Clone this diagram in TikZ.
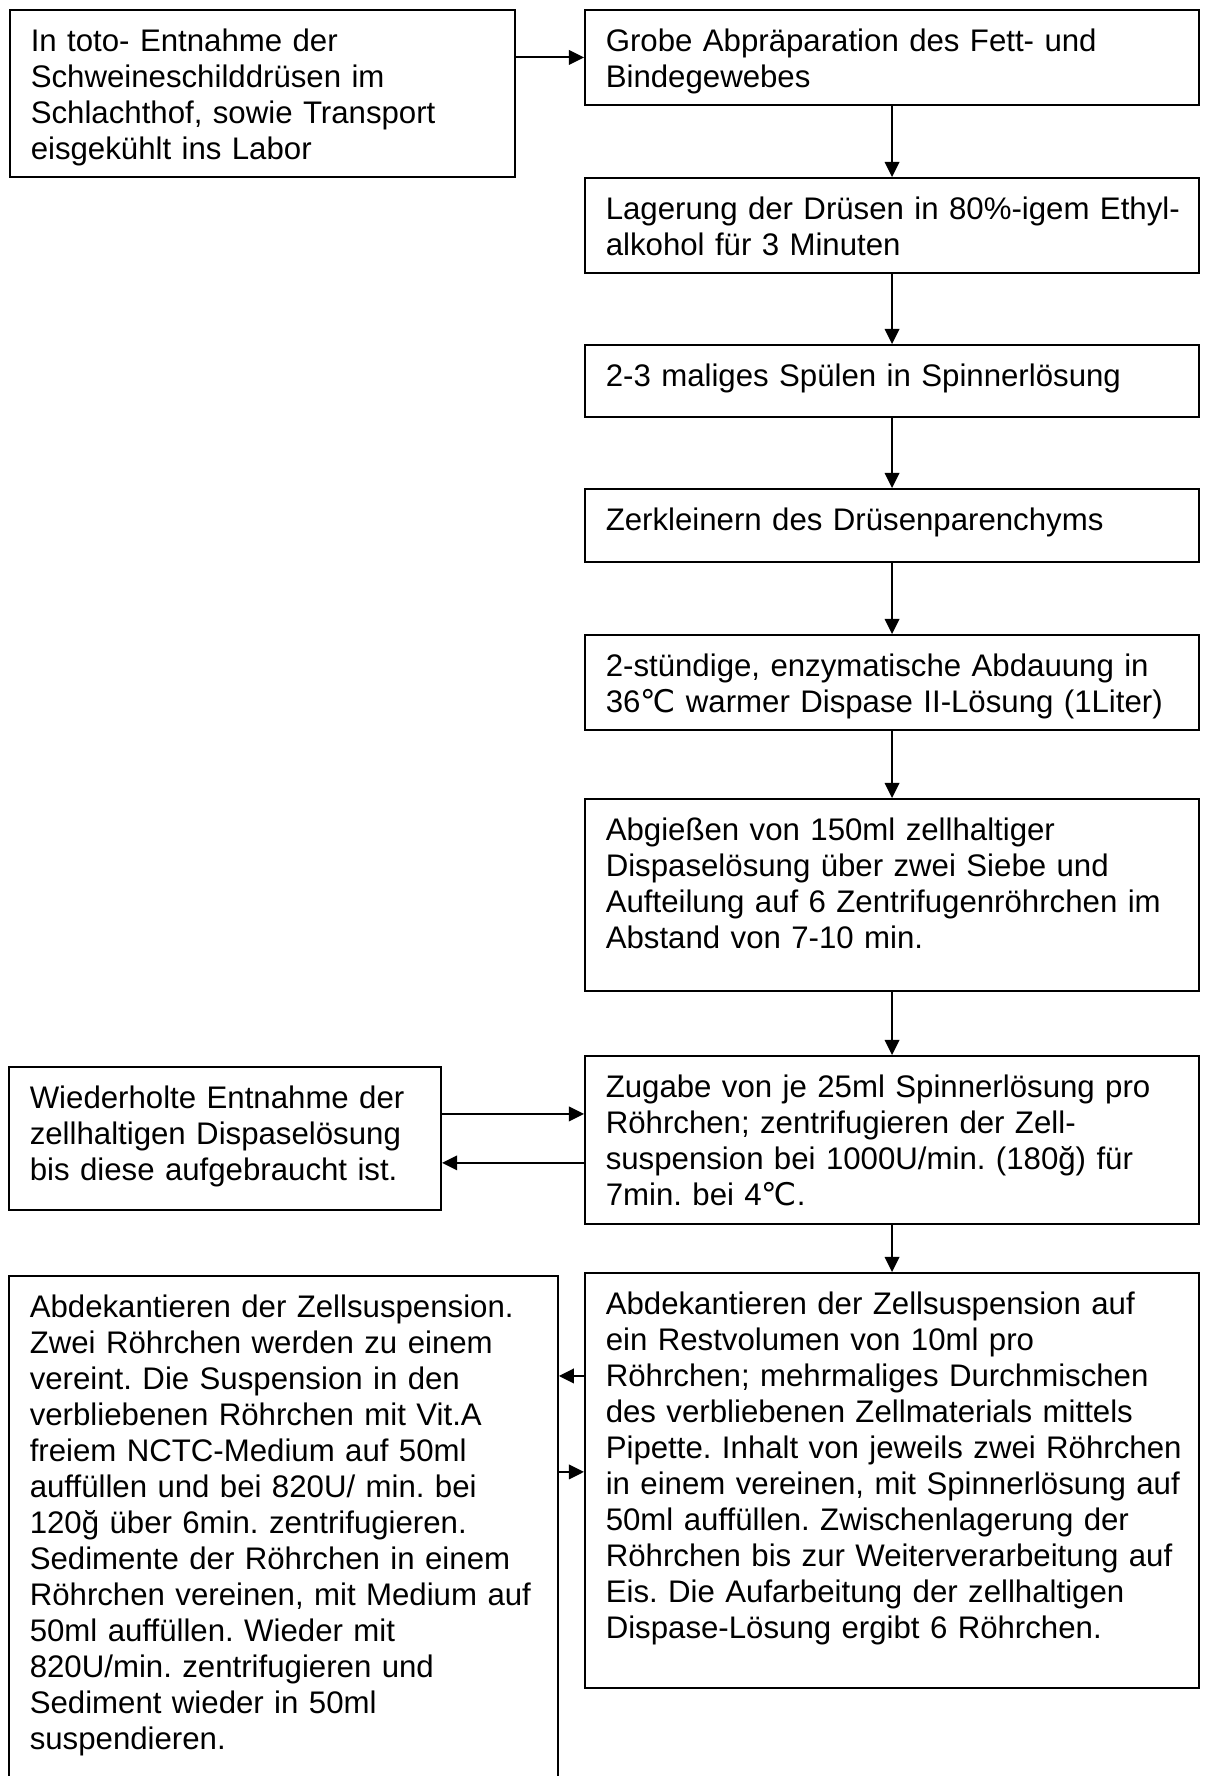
\documentclass[tikz,border=0pt]{standalone}
\usepackage{fontspec}
\setmainfont{Liberation Sans}
\newfontfamily\dejavu{DejaVu Sans}
\newcommand{\degC}{{\dejavu ℃}}
\usepackage{tikz}
\usetikzlibrary{arrows.meta}
\frenchspacing

\begin{document}
\begin{tikzpicture}[
  x=0.3846pt, y=-0.3846pt,
  stage/.style={
    draw, line width=0.75pt, anchor=north west, align=left,
    inner xsep=0pt, inner ysep=5.8pt, text height=10pt,
    font=\fontsize{12pt}{13.85pt}\selectfont,
    execute at begin node={\leftskip=8pt\relax}
  },
  arrow/.style={-{Triangle[length=5.8pt, width=5.6pt]}, line width=0.75pt}
]
  \useasboundingbox (0,0) rectangle (1209,1776);
  \clip (0,0) rectangle (1209,1776);
  \node[stage, text width=194.2pt, text depth=42.6pt] (entnahme) at (9,9) {In toto- Entnahme der\\Schweineschilddrüsen im\\Schlachthof, sowie Transport\\eisgekühlt ins Labor};
  \node[stage, text width=236.2pt, text depth=14.9pt] (grob) at (584,9) {Grobe Abpräparation des Fett- und\\Bindegewebes};
  \node[stage, text width=236.2pt, text depth=14.9pt] (lagerung) at (584,177) {Lagerung der Drüsen in 80\%-igem Ethyl-\\alkohol für 3 Minuten};
  \node[stage, text width=236.2pt, text depth=6.1pt] (spuelen) at (584,344) {2-3 maliges Spülen in Spinnerlösung};
  \node[stage, text width=236.2pt, text depth=6.5pt] (zerkl) at (584,488) {Zerkleinern des Drüsenparenchyms};
  \node[stage, text width=236.2pt, text depth=14.9pt] (abdauung) at (584,634) {2-stündige, enzymatische Abdauung in\\36\degC{} warmer Dispase II-Lösung (1Liter)};
  \node[stage, text width=236.2pt, text depth=52.2pt] (abgiessen) at (584,798) {Abgießen von 150ml zellhaltiger\\Dispaselösung über zwei Siebe und\\Aufteilung auf 6 Zentrifugenröhrchen im\\Abstand von 7-10 min.};
  \node[stage, text width=236.2pt, text depth=43pt] (zugabe) at (584,1055) {Zugabe von je 25ml Spinnerlösung pro\\Röhrchen; zentrifugieren der Zell-\\suspension bei 1000U/min. (180ğ) für\\7min. bei 4\degC.};
  \node[stage, text width=166.2pt, text depth=33.4pt] (wiederholt) at (8,1066) {Wiederholte Entnahme der\\zellhaltigen Dispaselösung\\bis diese aufgebraucht ist.};
  \node[stage, text width=236.2pt, text depth=138pt] (rest) at (584,1272) {Abdekantieren der Zellsuspension auf\\ein Restvolumen von 10ml pro\\Röhrchen; mehrmaliges Durchmischen\\des verbliebenen Zellmaterials mittels\\Pipette. Inhalt von jeweils zwei Röhrchen\\in einem vereinen, mit Spinnerlösung auf\\50ml auffüllen. Zwischenlagerung der\\Röhrchen bis zur Weiterverarbeitung auf\\Eis. Die Aufarbeitung der zellhaltigen\\Dispase-Lösung ergibt 6 Röhrchen.};
  \node[stage, text width=211.1pt, text depth=180.3pt] (medium) at (8,1275) {Abdekantieren der Zellsuspension.\\Zwei Röhrchen werden zu einem\\vereint. Die Suspension in den\\verbliebenen Röhrchen mit Vit.A\\freiem NCTC-Medium auf 50ml\\auffüllen und bei 820U/ min. bei\\120ğ über 6min. zentrifugieren.\\Sedimente der Röhrchen in einem\\Röhrchen vereinen, mit Medium auf\\50ml auffüllen. Wieder mit\\820U/min. zentrifugieren und\\Sediment wieder in 50ml\\suspendieren.};
  \draw[arrow] (entnahme.east |- grob.west) -- (grob.west);
  \draw[arrow] (grob) -- (lagerung);
  \draw[arrow] (lagerung) -- (spuelen);
  \draw[arrow] (spuelen) -- (zerkl);
  \draw[arrow] (zerkl) -- (abdauung);
  \draw[arrow] (abdauung) -- (abgiessen);
  \draw[arrow] (abgiessen) -- (zugabe);
  \draw[arrow] (zugabe) -- (rest);
  \draw[arrow] ([yshift=10pt]zugabe.west -| wiederholt.east) -- ([yshift=10pt]zugabe.west);
  \draw[arrow] ([yshift=-8.8pt]zugabe.west) -- ([yshift=-8.8pt]zugabe.west -| wiederholt.east);
  \draw[arrow] ([yshift=40.2pt]rest.west) -- ([yshift=40.2pt]rest.west -| medium.east);
  \draw[arrow] ([yshift=3.3pt]rest.west -| medium.east) -- ([yshift=3.3pt]rest.west);
\end{tikzpicture}
\end{document}
